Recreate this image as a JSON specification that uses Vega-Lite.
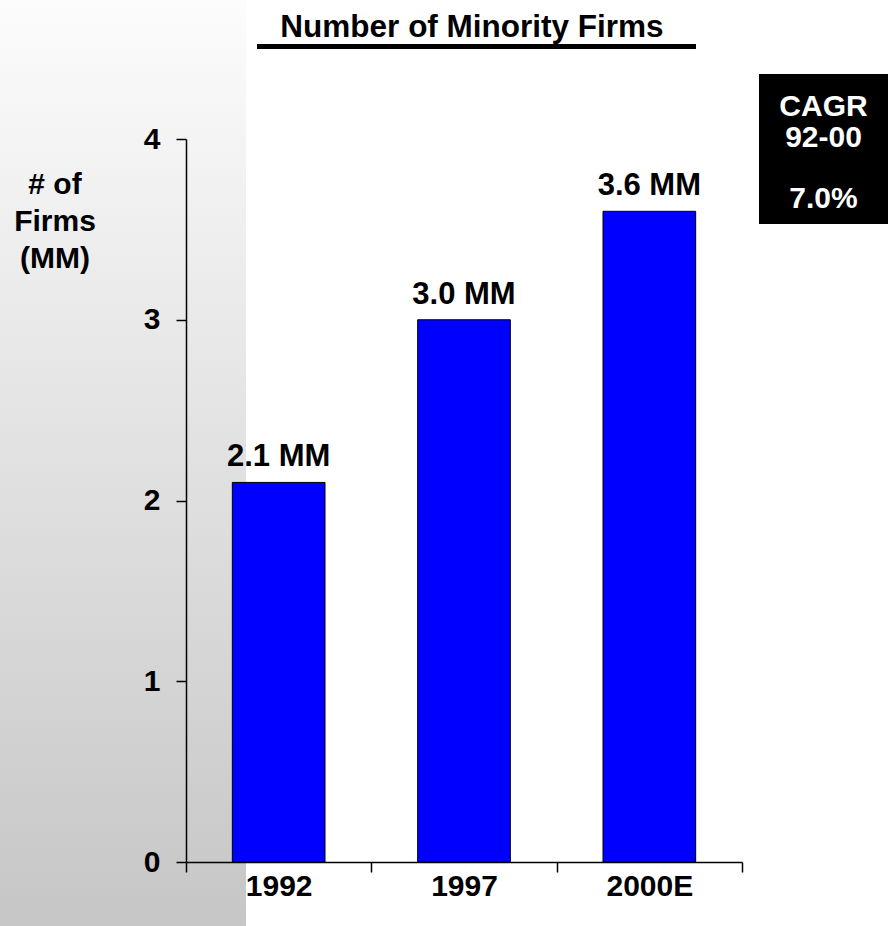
{
  "$schema": "https://vega.github.io/schema/vega-lite/v6.json",
  "width": 556,
  "height": 723,
  "autosize": {"type": "none"},
  "padding": {"left": 186, "top": 139, "right": 146, "bottom": 64},
  "background": "white",
  "config": {"view": {"stroke": null}, "font": "Liberation Sans"},
  "title": {
    "text": "Number of Minority Firms",
    "frame": "group",
    "anchor": "middle",
    "dx": 8,
    "offset": 0,
    "dy": 68,
    "baseline": "alphabetic",
    "fontSize": 31.5,
    "fontWeight": "bold",
    "font": "Liberation Sans",
    "color": "black"
  },
  "datasets": {
    "firms": [
      {"year": "1992", "firms": 2.1, "label": "2.1 MM"},
      {"year": "1997", "firms": 3.0, "label": "3.0 MM"},
      {"year": "2000E", "firms": 3.6, "label": "3.6 MM"}
    ],
    "noteHead": [{"t": ["CAGR", "92-00"]}],
    "noteValue": [{"t": "7.0%"}]
  },
  "layer": [
    {
      "data": {"values": [{"panel": "shade"}]},
      "mark": {
        "type": "rect",
        "fill": {
          "gradient": "linear",
          "x1": 0, "y1": 0, "x2": 0, "y2": 1,
          "stops": [
            {"offset": 0, "color": "#fcfcfc"},
            {"offset": 1, "color": "#c6c6c6"}
          ]
        }
      },
      "encoding": {
        "x": {"value": -186},
        "x2": {"value": 60},
        "y": {"value": -139},
        "y2": {"value": 787}
      }
    },
    {
      "data": {"values": [{"panel": "underline"}]},
      "mark": {"type": "rule", "strokeWidth": 5, "color": "black"},
      "encoding": {
        "x": {"value": 71},
        "x2": {"value": 510},
        "y": {"value": -92.5}
      }
    },
    {
      "data": {"name": "firms"},
      "mark": {"type": "bar", "fill": "#0000ff", "stroke": "black", "strokeWidth": 1, "width": {"band": 0.5}},
      "encoding": {
        "x": {
          "field": "year",
          "type": "nominal",
          "sort": null,
          "scale": {"paddingInner": 0, "paddingOuter": 0},
          "axis": {
            "title": null,
            "labelAngle": 0,
            "tickBand": "extent",
            "tickSize": 10,
            "labelPadding": -1,
            "labelFont": "Liberation Sans",
            "labelFontWeight": "bold",
            "labelFontSize": 30,
            "labelColor": "black",
            "domainColor": "black",
            "tickColor": "black",
            "domainWidth": 1.5,
            "tickWidth": 1.5,
            "zindex": 1
          }
        },
        "y": {
          "field": "firms",
          "type": "quantitative",
          "scale": {"domain": [0, 4]},
          "axis": {
            "values": [0, 1, 2, 3, 4],
            "format": "d",
            "grid": false,
            "tickSize": 10,
            "labelPadding": 16,
            "labelFont": "Liberation Sans",
            "labelFontWeight": "bold",
            "labelFontSize": 30,
            "labelColor": "black",
            "domainColor": "black",
            "tickColor": "black",
            "domainWidth": 1.5,
            "tickWidth": 1.5,
            "zindex": 1,
            "title": ["# of", "Firms", "(MM)"],
            "titleAngle": 0,
            "titleAlign": "center",
            "titleBaseline": "alphabetic",
            "titleX": -131.5,
            "titleY": 54,
            "titleLineHeight": 37,
            "titleFont": "Liberation Sans",
            "titleFontWeight": "bold",
            "titleFontSize": 30,
            "titleColor": "black"
          }
        }
      }
    },
    {
      "data": {"name": "firms"},
      "mark": {
        "type": "text",
        "baseline": "alphabetic",
        "dy": -16,
        "fontSize": 31,
        "fontWeight": "bold",
        "font": "Liberation Sans",
        "color": "black"
      },
      "encoding": {
        "x": {"field": "year", "type": "nominal", "sort": null},
        "y": {"field": "firms", "type": "quantitative"},
        "text": {"field": "label", "type": "nominal"}
      }
    },
    {
      "data": {"values": [{"panel": "cagr"}]},
      "mark": {"type": "rect", "fill": "black"},
      "encoding": {
        "x": {"value": 573},
        "x2": {"value": 702},
        "y": {"value": -65},
        "y2": {"value": 85}
      }
    },
    {
      "data": {"name": "noteHead"},
      "mark": {
        "type": "text",
        "align": "center",
        "baseline": "alphabetic",
        "lineHeight": 30.5,
        "fontSize": 30,
        "fontWeight": "bold",
        "font": "Liberation Sans",
        "color": "white"
      },
      "encoding": {
        "x": {"value": 637.5},
        "y": {"value": -23},
        "text": {"field": "t", "type": "nominal"}
      }
    },
    {
      "data": {"name": "noteValue"},
      "mark": {
        "type": "text",
        "align": "center",
        "baseline": "alphabetic",
        "fontSize": 30,
        "fontWeight": "bold",
        "font": "Liberation Sans",
        "color": "white"
      },
      "encoding": {
        "x": {"value": 637.5},
        "y": {"value": 69},
        "text": {"field": "t", "type": "nominal"}
      }
    }
  ]
}
